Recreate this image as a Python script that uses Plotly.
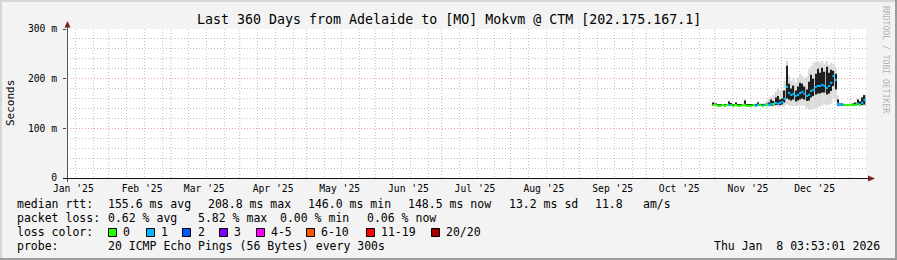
import plotly.graph_objects as go
import pandas as pd

# ---------------- data ----------------
dates = list(pd.date_range("2025-10-31", "2026-01-08", freq="D").strftime("%Y-%m-%d"))
median_ms = [147, 147, 146, 146, 147, 146, 147, 148, 147, 146,
             147, 146, 146, 147, 148, 146, 146, 146, 147, 146,
             148, 147, 146, 147, 148, 148, 150, 149, 151, 150,
             152, 153, 160, 184, 172, 168, 170, 165, 168, 172,
             174, 170, 165, 168, 176, 178, 183, 186, 185, 188,
             186, 182, 185, 192, 206, 198, 150, 148, 148, 147,
             147, 147, 148, 147, 148, 150, 148, 152, 158, 150]
loss = [0, 0, 0, 0, 0, 0, 0, 1, 0, 0,
        0, 0, 0, 0, 0, 0, 0, 0, 0, 1,
        1, 0, 0, 1, 0, 1, 1, 0, 1, 1,
        1, 1, 1, 1, 1, 1, 1, 1, 1, 1,
        1, 1, 1, 1, 1, 1, 1, 1, 1, 1,
        1, 1, 1, 1, 1, 1, 1, 1, 1, 0,
        0, 0, 0, 0, 0, 1, 0, 1, 1, 1]
dark_lo = [146, 146, 145, 145, 146, 145, 146, 146, 146, 145,
           146, 145, 145, 146, 146, 145, 145, 145, 146, 145,
           146, 146, 145, 146, 146, 146, 146, 146, 147, 147,
           147, 148, 152, 160, 158, 156, 158, 154, 156, 158,
           160, 158, 155, 156, 162, 165, 168, 170, 170, 172,
           172, 168, 170, 175, 185, 178, 146, 146, 146, 146,
           146, 146, 146, 146, 146, 147, 146, 147, 148, 147]
dark_hi = [152, 150, 147, 147, 148, 147, 149, 154, 151, 147,
           152, 147, 147, 149, 156, 147, 147, 147, 148, 148,
           152, 149, 148, 149, 150, 152, 158, 155, 162, 165,
           158, 160, 176, 226, 190, 180, 186, 176, 184, 192,
           190, 184, 178, 194, 208, 200, 210, 220, 212, 222,
           214, 224, 212, 218, 216, 210, 158, 150, 150, 149,
           149, 148, 149, 150, 152, 158, 154, 162, 167, 155]
light_lo = [145, 145, 144, 144, 145, 144, 145, 145, 145, 144,
            145, 144, 144, 145, 145, 144, 144, 144, 145, 144,
            145, 145, 144, 145, 144, 144, 144, 144, 144, 143,
            143, 144, 145, 148, 146, 145, 145, 145, 145, 146,
            146, 145, 140, 138, 137, 139, 140, 142, 144, 146,
            148, 146, 148, 150, 160, 155, 144, 144, 145, 145,
            145, 145, 145, 145, 145, 145, 145, 145, 145, 146]
light_hi = [153, 151, 148, 148, 149, 148, 150, 156, 152, 148,
            153, 148, 148, 150, 158, 148, 148, 148, 149, 150,
            155, 151, 150, 153, 156, 160, 164, 168, 174, 180,
            176, 178, 195, 236, 206, 196, 202, 192, 202, 210,
            206, 200, 204, 218, 226, 232, 234, 236, 232, 236,
            230, 236, 228, 232, 230, 224, 166, 152, 151, 150,
            150, 149, 150, 151, 153, 160, 156, 164, 168, 156]

loss_labels = ["0", "1", "2", "3", "4-5", "6-10", "11-19", "20/20"]
loss_colors = ["#26ff00", "#00b8ff", "#0059ff", "#7e00ff", "#ff00ff", "#ff5500", "#ff0000", "#a10000"]

y_tickvals = [0, 100, 200, 300]
y_ticktext = ["0", "100 m", "200 m", "300 m"]
month_starts = ["2025-02-01", "2025-03-01", "2025-04-01", "2025-05-01", "2025-06-01", "2025-07-01",
                "2025-08-01", "2025-09-01", "2025-10-01", "2025-11-01", "2025-12-01", "2026-01-01"]
month_labels = ["Jan '25", "Feb '25", "Mar '25", "Apr '25", "May '25", "Jun '25",
                "Jul '25", "Aug '25", "Sep '25", "Oct '25", "Nov '25", "Dec '25"]
month_label_pos = ["2025-01-16", "2025-02-16", "2025-03-16", "2025-04-16", "2025-05-16", "2025-06-16",
                   "2025-07-16", "2025-08-16", "2025-09-16", "2025-10-16", "2025-11-16", "2025-12-16"]
minor_days = [9, 17, 25]

stats_rtt = ["155.6 ms avg", "208.8 ms max", "146.0 ms min", "148.5 ms now", "13.2 ms sd", "11.8", "am/s"]
stats_loss = ["0.62 % avg", "5.82 % max", "0.00 % min", "0.06 % now"]

# ---------------- layout helpers ----------------
W, H = 897, 260
L, R, T, B = 67, 866, 29, 178
FONT = "DejaVu Sans Mono"
DAY = 86400000


def px(x):
    return (x - L) / (R - L)


def py(y):
    return (B - y) / (B - T)


fig = go.Figure()
fig.add_trace(go.Bar(x=dates, base=light_lo, y=[h - l for h, l in zip(light_hi, light_lo)],
                     width=DAY, offset=0, marker=dict(color="#dadada", line=dict(width=0)),
                     hoverinfo="skip"))
fig.add_trace(go.Bar(x=dates, base=dark_lo, y=[h - l for h, l in zip(dark_hi, dark_lo)],
                     width=DAY * 0.6, offset=DAY * 0.2, marker=dict(color="#1e1e1e", line=dict(width=0)),
                     hoverinfo="skip"))
fig.add_trace(go.Bar(x=dates, base=[m - 1.6 for m in median_ms], y=[3.2] * len(median_ms),
                     width=DAY, offset=0,
                     marker=dict(color=[loss_colors[v] for v in loss], line=dict(width=0)),
                     hoverinfo="skip"))

minor_vals = []
for yr, mo in [(2025, m) for m in range(1, 13)] + [(2026, 1)]:
    for d in minor_days:
        minor_vals.append(f"{yr}-{mo:02d}-{d:02d}")

GRID = "#c4c4c4"
MGRID = "#eba0a0"
DASH = "1px,2px"

shapes = []
for ms in month_starts:
    shapes.append(dict(type="line", xref="x", yref="paper", x0=ms, x1=ms, y0=0, y1=1,
                       line=dict(color=MGRID, width=1, dash=DASH), layer="below"))

# axes and arrows
shapes.append(dict(type="line", xref="paper", yref="paper", x0=px(67.5), x1=px(67.5),
                   y0=py(182), y1=py(26), line=dict(color="#555555", width=1)))
shapes.append(dict(type="line", xref="paper", yref="paper", x0=px(63), x1=px(869),
                   y0=py(178.5), y1=py(178.5), line=dict(color="#111111", width=1)))
shapes.append(dict(type="path", xref="paper", yref="paper",
                   path=f"M {px(64.5)} {py(27.5)} L {px(70.5)} {py(27.5)} L {px(67.5)} {py(21)} Z",
                   fillcolor="#7f1f1f", line=dict(width=0)))
shapes.append(dict(type="path", xref="paper", yref="paper",
                   path=f"M {px(868)} {py(175.5)} L {px(868)} {py(181.5)} L {px(875)} {py(178.5)} Z",
                   fillcolor="#7f1f1f", line=dict(width=0)))

# 3D frame
shapes.append(dict(type="rect", xref="paper", yref="paper", x0=px(0), x1=px(897), y0=py(0), y1=py(2),
                   fillcolor="#d6d6d6", line=dict(width=0)))
shapes.append(dict(type="rect", xref="paper", yref="paper", x0=px(0), x1=px(2), y0=py(0), y1=py(260),
                   fillcolor="#d6d6d6", line=dict(width=0)))
shapes.append(dict(type="rect", xref="paper", yref="paper", x0=px(0), x1=px(897), y0=py(258), y1=py(260),
                   fillcolor="#9c9c9c", line=dict(width=0)))
shapes.append(dict(type="rect", xref="paper", yref="paper", x0=px(895), x1=px(897), y0=py(0), y1=py(260),
                   fillcolor="#9c9c9c", line=dict(width=0)))

# loss colour boxes
box_x = [108, 146, 182, 219, 256, 306, 366, 431]
lab_x = [122, 160, 197, 233, 270, 320, 380, 445]
for bx, c in zip(box_x, loss_colors):
    shapes.append(dict(type="rect", xref="paper", yref="paper", x0=px(bx + 0.5), x1=px(bx + 8.5),
                       y0=py(228.5), y1=py(236.5), fillcolor=c, line=dict(color="#000000", width=1)))

ann = []


def text(x, y, s, size=11.5, anchor="left", color="#000000", angle=0):
    ann.append(dict(x=px(x), y=py(y), xref="paper", yref="paper", text=s, showarrow=False,
                    xanchor=anchor, yanchor="middle", borderpad=0, textangle=angle,
                    font=dict(family=FONT, size=size, color=color)))


text(448.5, 19, "Last 360 Days from Adelaide to [MO] Mokvm @ CTM [202.175.167.1]", size=13.3, anchor="center")
text(11, 103, "Seconds", size=11, anchor="center", angle=-90)
text(886, 59, "RRDTOOL / TOBI OETIKER", size=8.1, anchor="center", color="#b4b4b4", angle=90)

text(16, 204, "median rtt:")
for xx, s in zip([107, 207, 307, 407, 508, 594, 642], stats_rtt):
    text(xx, 204, s)
text(16, 218, "packet loss:")
for xx, s in zip([107, 197, 279, 366], stats_loss):
    text(xx, 218, s)
text(16, 232, "loss color:")
for xx, s in zip(lab_x, loss_labels):
    text(xx, 232, s)
text(16, 246, "probe:")
text(107, 246, "20 ICMP Echo Pings (56 Bytes) every 300s")
text(881, 246, "Thu Jan\u00a0\u00a08 03:53:01 2026", anchor="right")

fig.update_layout(
    width=W, height=H,
    margin=dict(l=L, r=W - R, t=T, b=H - B, pad=0),
    paper_bgcolor="#f3f3f3", plot_bgcolor="#ffffff",
    barmode="overlay", showlegend=False,
    shapes=shapes, annotations=ann,
    font=dict(family=FONT, color="#000000"),
    xaxis=dict(type="date", range=["2025-01-13 03:53:01", "2026-01-08 03:53:01"],
               tickmode="array", tickvals=month_label_pos, ticktext=month_labels,
               showgrid=False, zeroline=False, showline=False, ticks="",
               tickfont=dict(family=FONT, size=9.7, color="#000000"), ticklabelstandoff=3,
               minor=dict(tickmode="array", tickvals=minor_vals, showgrid=True,
                          gridcolor=GRID, griddash=DASH, gridwidth=1, ticks="")),
    yaxis=dict(range=[0, 300], tickmode="array", tickvals=y_tickvals, ticktext=y_ticktext,
               showgrid=True, gridcolor=MGRID, griddash=DASH, gridwidth=1,
               zeroline=False, showline=False, ticks="outside", ticklen=3, tickcolor="#444444",
               tickfont=dict(family=FONT, size=9.7, color="#000000"), ticklabelstandoff=4,
               minor=dict(dtick=20, showgrid=True, gridcolor=GRID, griddash=DASH, gridwidth=1, ticks="")),
)

fig.write_html("out.html")
